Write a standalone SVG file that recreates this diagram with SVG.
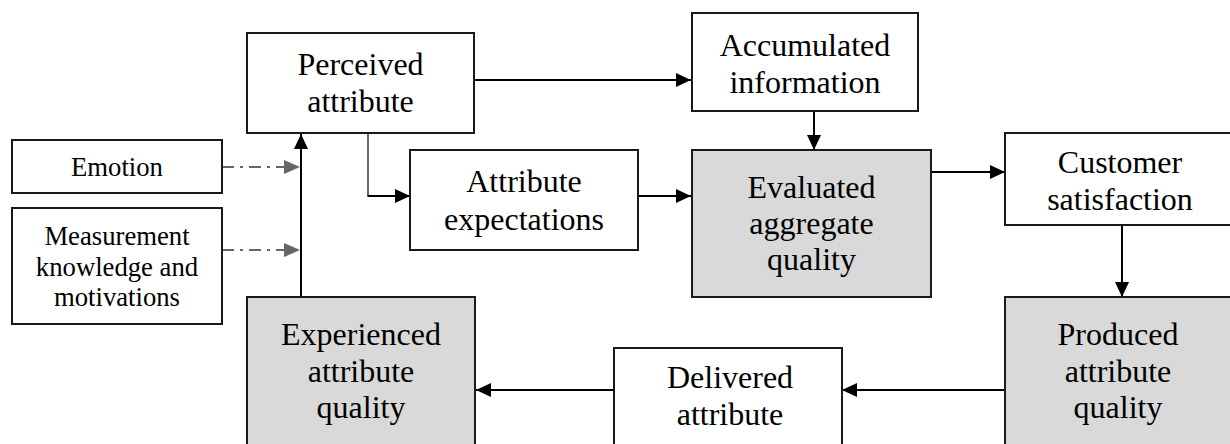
<svg xmlns="http://www.w3.org/2000/svg" width="1230" height="444" viewBox="0 0 1230 444">
<style>
.box{fill:#ffffff;stroke:#1a1a1a;stroke-width:2}
.shade{fill:#d9d9d9;stroke:#1a1a1a;stroke-width:2}
.t{font-family:"Liberation Serif","Times New Roman",serif;font-size:32px;fill:#000;text-anchor:middle}
.s{font-family:"Liberation Serif","Times New Roman",serif;font-size:26.7px;fill:#000;text-anchor:middle}
.c{fill:none;stroke:#000;stroke-width:2}
.thin{fill:none;stroke:#000;stroke-width:1.2}
.d{fill:none;stroke:#666;stroke-width:2;stroke-dasharray:12 6 3 6}
</style>
<defs>
<marker id="ah" markerWidth="15" markerHeight="14" refX="15" refY="7" orient="auto" markerUnits="userSpaceOnUse">
<path d="M0,0 L15,7 L0,14 Z" fill="#000"/>
</marker>
<marker id="ag" markerWidth="16" markerHeight="14" refX="16" refY="7" orient="auto" markerUnits="userSpaceOnUse">
<path d="M0,0 L16,7 L0,14 Z" fill="#666"/>
</marker>
</defs>
<rect width="1230" height="444" fill="#ffffff"/>
<g id="connectors">
<path class="c" d="M474,80 H691" marker-end="url(#ah)"/>
<path class="c" d="M814,111 V150" marker-end="url(#ah)"/>
<path class="thin" d="M368,133 V196"/>
<path class="c" d="M367.5,196 H410" marker-end="url(#ah)"/>
<path class="c" d="M638,196 H691" marker-end="url(#ah)"/>
<path class="c" d="M929,172 H1005" marker-end="url(#ah)"/>
<path class="c" d="M1122,225 V297" marker-end="url(#ah)"/>
<path class="c" d="M1005,390 H842" marker-end="url(#ah)"/>
<path class="c" d="M614,390 H476" marker-end="url(#ah)"/>
<path class="c" d="M301,297 V134" marker-end="url(#ah)"/>
<path class="d" d="M222,167 H300" marker-end="url(#ag)"/>
<path class="d" d="M222,250 H300" marker-end="url(#ag)"/>
</g>
<g id="perceived">
<rect class="box" x="247" y="33" width="227" height="100"/>
<text class="t" x="360.5" y="75">Perceived</text>
<text class="t" x="360.5" y="112">attribute</text>
</g>
<g id="accumulated">
<rect class="box" x="692" y="13" width="226" height="98"/>
<text class="t" x="805" y="56">Accumulated</text>
<text class="t" x="805" y="93">information</text>
</g>
<g id="emotion">
<rect class="box" x="12" y="140" width="210" height="53"/>
<text class="s" x="117" y="176">Emotion</text>
</g>
<g id="measurement">
<rect class="box" x="12" y="208" width="210" height="116"/>
<text class="s" x="117" y="245">Measurement</text>
<text class="s" x="117" y="275.5">knowledge and</text>
<text class="s" x="117" y="306">motivations</text>
</g>
<g id="expectations">
<rect class="box" x="410" y="150" width="228" height="100"/>
<text class="t" x="524" y="192">Attribute</text>
<text class="t" x="524" y="230">expectations</text>
</g>
<g id="evaluated">
<rect class="shade" x="692" y="150" width="239" height="147"/>
<text class="t" x="811.5" y="198">Evaluated</text>
<text class="t" x="811.5" y="234">aggregate</text>
<text class="t" x="811.5" y="270">quality</text>
</g>
<g id="customer">
<rect class="box" x="1005" y="133" width="235" height="92"/>
<text class="t" x="1120" y="173">Customer</text>
<text class="t" x="1120" y="210">satisfaction</text>
</g>
<g id="produced">
<rect class="shade" x="1005" y="297" width="235" height="170"/>
<text class="t" x="1118" y="345">Produced</text>
<text class="t" x="1118" y="382">attribute</text>
<text class="t" x="1118" y="418">quality</text>
</g>
<g id="delivered">
<rect class="box" x="614" y="348" width="228" height="120"/>
<text class="t" x="730" y="388">Delivered</text>
<text class="t" x="730" y="425">attribute</text>
</g>
<g id="experienced">
<rect class="shade" x="247" y="297" width="228" height="170"/>
<text class="t" x="361" y="345">Experienced</text>
<text class="t" x="361" y="382">attribute</text>
<text class="t" x="361" y="418">quality</text>
</g>
</svg>
